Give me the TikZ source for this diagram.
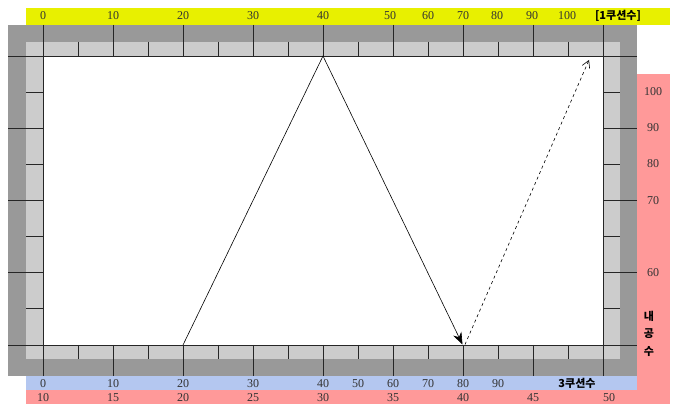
\documentclass[tikz,border=0pt]{standalone}
\usepackage{fontspec}
\setmainfont{Liberation Serif}
\newfontfamily\kr{Noto Sans CJK KR}
\usetikzlibrary{arrows.meta}
\definecolor{cushyellow}{RGB}{232,240,0}
\definecolor{cushred}{RGB}{255,153,153}
\definecolor{cushblue}{RGB}{180,199,240}
\definecolor{railgray}{RGB}{153,153,153}
\definecolor{cushgray}{RGB}{204,204,204}
\tikzset{
  num/.style={inner sep=0pt,font=\fontsize{12}{14}\selectfont,text=black!80},
  krlab/.style={inner sep=0pt,font=\kr\bfseries\fontsize{11}{13}\selectfont},
  tick/.style={line width=0.9pt,black!85},
  shot/.style={line width=0.6pt}
}
\begin{document}
\begin{tikzpicture}[x=1pt,y=-1pt]
\useasboundingbox (0,0) rectangle (683,419);
% colour bands
\fill[cushred] (637,74) rectangle (670,404);
\fill[cushred] (26,390) rectangle (670,404);
\fill[cushblue] (26,376) rectangle (637,390);
\fill[cushyellow] (26,8) rectangle (670,25);
% table
\fill[railgray] (8,25) rectangle (637,376);
\fill[cushgray] (26,42) rectangle (620,359);
\fill[white] (43,56) rectangle (603,345);
\draw[tick] (8,56) -- (637,56);
\draw[tick] (8,345) -- (637,345);
\draw[tick] (43,25) -- (43,376);
\draw[tick] (603,25) -- (603,376);
% diamonds
\foreach \x in {113,183,...,533} {
  \draw[tick] (\x,25) -- (\x,56);
  \draw[tick] (\x,345) -- (\x,376);
}
\foreach \x in {78,148,...,568} {
  \draw[tick] (\x,42) -- (\x,56);
  \draw[tick] (\x,345) -- (\x,359);
}
\foreach \y in {128.25,200.5,272.75} {
  \draw[tick] (8,\y) -- (43,\y);
  \draw[tick] (603,\y) -- (637,\y);
}
\foreach \y in {92.1,164.4,236.6,308.9} {
  \draw[tick] (26,\y) -- (43,\y);
  \draw[tick] (603,\y) -- (620,\y);
}
% 1 cushion numbers
\foreach \x/\n in {43/0,113/10,183/20,253/30,323/40,390/50,428/60,463/70,497/80,532/90,567/100}
  \node[num] (top\n) at (\x,16) {\n};
\node[krlab] (onecush) at (618,16) {[1쿠션수]};
% 3 cushion numbers
\foreach \x/\n in {43/0,113/10,183/20,253/30,323/40,358/50,393/60,428/70,463/80,498/90}
  \node[num] (three\n) at (\x,383.5) {\n};
\node[krlab] (threecush) at (577,383) {3쿠션수};
% cue ball numbers
\foreach \x/\n in {43/10,113/15,183/20,253/25,323/30,393/35,463/40,533/45,609/50}
  \node[num] (cue\n) at (\x,397.5) {\n};
\foreach \y/\n in {92/100,128/90,164/80,201/70,273/60}
  \node[num] (side\n) at (653,\y) {\n};
\node[krlab] (nae) at (649,316) {내};
\node[krlab] (gong) at (649,334) {공};
\node[krlab] (su) at (649,352) {수};
% ball path
\coordinate (start) at (183,345);
\coordinate (hit) at (323,56);
\coordinate (land) at (462.5,344.5);
\coordinate (goal) at (589,60);
\draw[shot,-{Stealth[length=12pt,width=9pt]}] (start) -- (hit) -- (land);
\draw[shot,dashed,-{Straight Barb[length=7pt,width=8pt]}] ([xshift=2.5pt]land) -- (goal);
\end{tikzpicture}
\end{document}
